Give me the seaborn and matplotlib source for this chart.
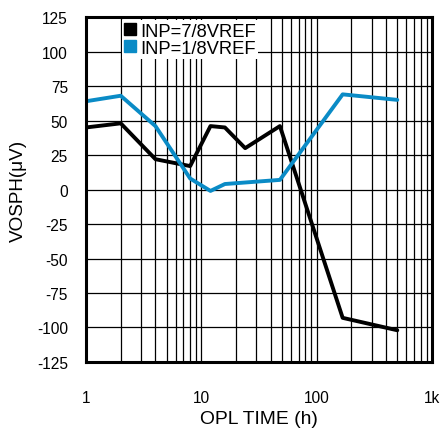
import matplotlib
matplotlib.use("Agg")
import matplotlib.pyplot as plt
from matplotlib.ticker import FixedLocator, LogLocator, NullFormatter
import seaborn as sns
import pandas as pd

# data
hours_a = [1, 2, 4, 8, 12, 16, 24, 48, 168, 500]
vos_a = [45, 48, 22, 17, 46, 45, 30, 46, -93, -102]
hours_b = [1, 2, 4, 8, 12, 16, 48, 168, 500]
vos_b = [64, 68, 46, 8, -1, 4, 7, 69, 65]
labels = ["INP=7/8VREF", "INP=1/8VREF"]
colors = ["#000000", "#0a8bc6"]
x_ticks = [1, 10, 100, 1000]
x_ticklabels = ["1", "10", "100", "1k"]
y_ticks = list(range(-125, 126, 25))

df = pd.concat([
    pd.DataFrame({"hours": hours_a, "vos": vos_a, "cond": labels[0]}),
    pd.DataFrame({"hours": hours_b, "vos": vos_b, "cond": labels[1]}),
])

sns.set_style("white")
plt.rcParams["font.family"] = ["Liberation Sans", "DejaVu Sans"]
plt.rcParams["axes.unicode_minus"] = False
plt.rcParams["text.color"] = "black"
plt.rcParams["axes.labelcolor"] = "black"
plt.rcParams["xtick.color"] = "black"
plt.rcParams["ytick.color"] = "black"

fig = plt.figure(figsize=(4.44, 4.31), dpi=100)
ax = fig.add_axes([0.1937, 0.1578, 0.7793, 0.8002])

sns.lineplot(data=df, x="hours", y="vos", hue="cond", palette=colors,
             linewidth=2.8, sort=False, legend=False, ax=ax, zorder=3)

ax.set_xscale("log")
ax.set_xlim(1, 1000)
ax.set_ylim(-125, 125)
ax.xaxis.set_major_locator(FixedLocator(x_ticks))
ax.set_xticklabels(x_ticklabels)
ax.xaxis.set_minor_locator(LogLocator(base=10, subs=range(2, 10)))
ax.xaxis.set_minor_formatter(NullFormatter())
ax.set_yticks(y_ticks)
ax.grid(True, which="both", axis="x", color="black", linewidth=0.9)
ax.grid(True, which="major", axis="y", color="black", linewidth=0.9)
ax.tick_params(axis="both", which="both", length=0, labelsize=11.2)
ax.tick_params(axis="x", pad=20)
ax.tick_params(axis="y", pad=13)
for s in ax.spines.values():
    s.set_color("black")
    s.set_linewidth(2.2)
    s.set_zorder(5)

ax.set_xlabel("OPL TIME (h)", fontsize=13.9, labelpad=4)
ax.set_ylabel("VOSPH(\u03bcV)", fontsize=13.6, labelpad=7)

handles = [plt.Line2D([], [], marker="s", linestyle="none", color=c, markersize=8.5)
           for c in colors]
leg = ax.legend(handles, labels, loc="upper left", bbox_to_anchor=(0.095, 1.0),
                frameon=True, fontsize=13.2, handlelength=0.6, handletextpad=0.25,
                labelspacing=0.0, borderpad=0.15, borderaxespad=0.15)
leg.get_frame().set_edgecolor("none")
leg.get_frame().set_facecolor("white")
leg.get_frame().set_alpha(1)
leg.get_frame().set_boxstyle("square", pad=0)
leg.set_zorder(4)

fig.savefig("out.png", dpi=100)
